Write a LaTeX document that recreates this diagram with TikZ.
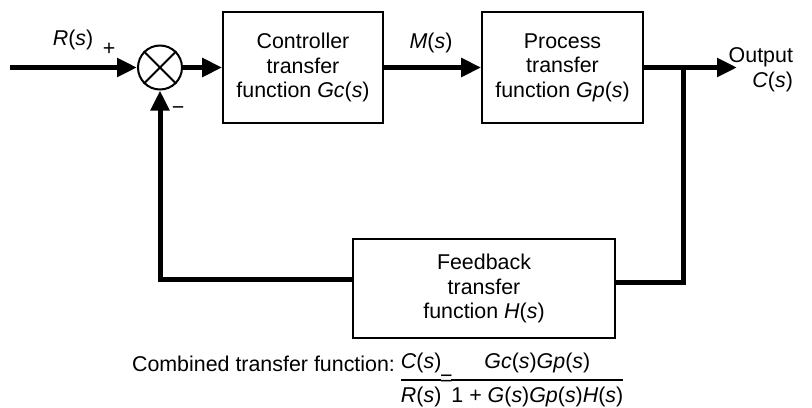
\documentclass[tikz,border=0pt]{standalone}
\usepackage{amsmath}
\usepackage{fontspec}
\setmainfont{Liberation Sans}
\usetikzlibrary{arrows.meta,positioning}
\tikzset{
  block/.style={draw, line width=0.8pt, align=center, inner sep=0pt},
  sumnode/.style={draw, circle, line width=1pt, minimum size=22pt, inner sep=0pt},
  sig/.style={line width=2.5pt},
  tip/.style={-{Triangle[length=10pt,width=9pt]}}
}
\newcommand{\tf}[2]{\text{\textit{#1}(\textit{#2})}}

\begin{document}
\begin{tikzpicture}[x=0.5pt, y=-0.5pt, font=\fontsize{10.7}{12.3}\selectfont]
    \useasboundingbox (0,0) rectangle (812,407);
    \node[sumnode] (sum) at (160,67.5) {};
    \draw[line width=1pt] (sum.45) -- (sum.225) (sum.135) -- (sum.315);
    \node[block, minimum width=80pt, minimum height=55.5pt] (ctrl) at (303,67.5)
        {Controller\\transfer\\function \tf{Gc}{s}};
    \node[block, minimum width=80.5pt, minimum height=55.5pt] (proc) at (562.5,67.5)
        {Process\\transfer\\function \tf{Gp}{s}};
    \node[block, minimum width=131pt, minimum height=49.5pt] (fb) at (484,288.5)
        {Feedback\\transfer\\function \tf{H}{s}};
    \coordinate (in) at (10,67.5);
    \coordinate (jn) at (683,67.5);
    \coordinate (out) at (737,67.5);
    % forward path
    \draw[sig, tip] (in) -- (sum.west);
    \draw[sig, tip] (sum.east) -- (ctrl.west);
    \draw[sig, tip] (ctrl.east) -- (proc.west);
    \draw[sig, tip] (proc.east) -- (out);
    % feedback path
    \draw[sig] (jn) |- ([yshift=3pt]fb.east);
    \draw[sig, tip] ([yshift=4.5pt]fb.west) -| (sum.south);
    % labels
    \node (rlbl) at (73,40) {\tf{R}{s}};
    \node (plus) at (109,49) {+};
    \node (minus) at (178,111) {−};
    \node (mlbl) at (431,43) {\tf{M}{s}};
    \node[align=right, anchor=east] (outlbl) at (800,70) {Output\\\tf{C}{s}};
    \node[anchor=west] (eq) at (125,380)
        {\raisebox{7pt}{Combined transfer function:}\,$\genfrac{}{}{1pt}{0}{\tf{C}{s}}{\tf{R}{s}}\!\text{=}\!\genfrac{}{}{1pt}{0}{\tf{Gc}{s}\tf{Gp}{s}}{\text{1 + }\tf{G}{s}\tf{Gp}{s}\tf{H}{s}}$};
\end{tikzpicture}
\end{document}
